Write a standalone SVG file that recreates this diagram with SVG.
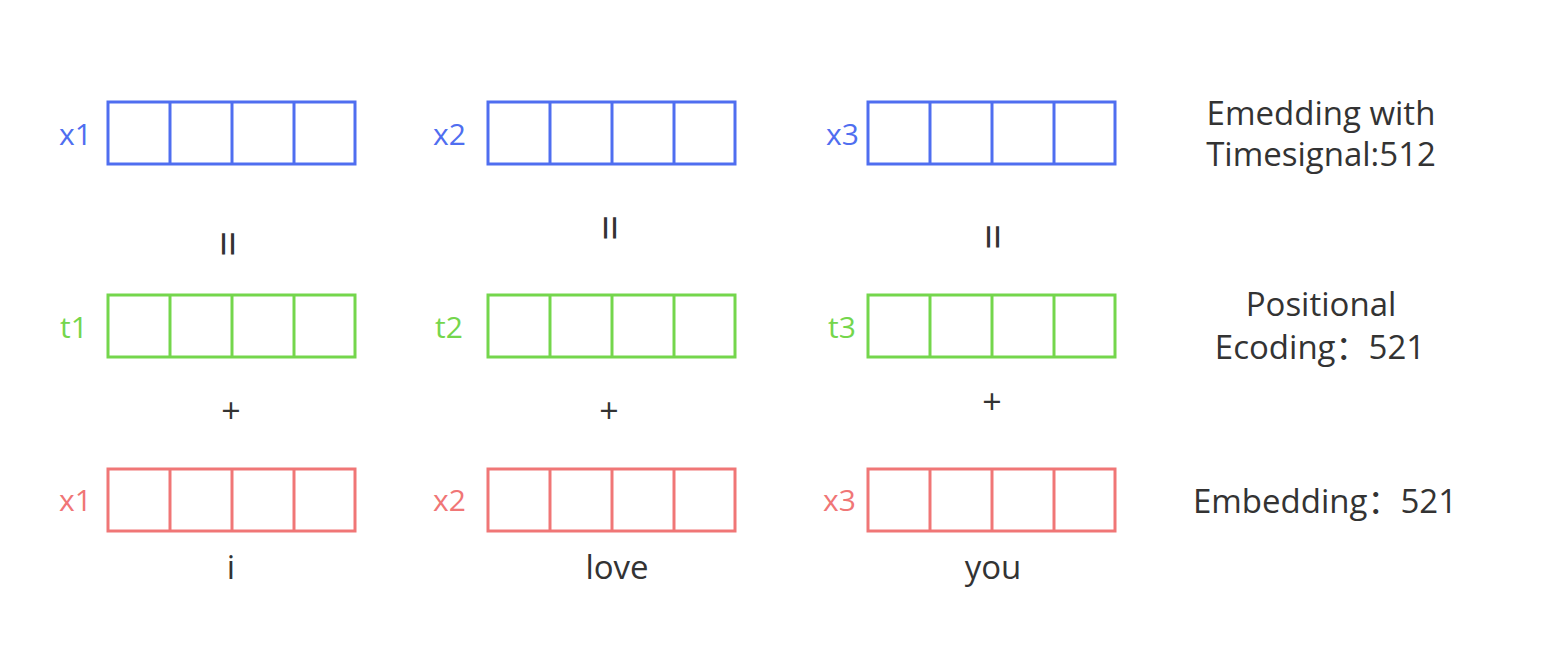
<svg xmlns="http://www.w3.org/2000/svg" width="1544" height="668" viewBox="0 0 1544 668">
<style>
.b{fill:none;stroke:#4F6EF0;stroke-width:3}
.g{fill:none;stroke:#74D64C;stroke-width:3}
.r{fill:none;stroke:#F07676;stroke-width:3}
text{font-family:"Open Sans","Noto Sans","Noto Sans CJK SC",sans-serif}
.lb{fill:#4F6EF0;font-size:30px}
.lg{fill:#74D64C;font-size:30px}
.lr{fill:#F07676;font-size:30px}
.t{fill:#333;font-size:33px;text-anchor:middle}
.s{fill:#333;font-size:34px;text-anchor:middle}
.e{fill:#333;font-size:46px;text-anchor:middle}
</style>
<defs>
<g id="v4">
<rect x="0" y="0" width="247" height="62"/>
<line x1="62" y1="0" x2="62" y2="62"/>
<line x1="124" y1="0" x2="124" y2="62"/>
<line x1="186" y1="0" x2="186" y2="62"/>
</g>
</defs>
<rect width="1544" height="668" fill="#fff"/>
<g id="row-emb-time">
<g id="x1-top" class="b"><use href="#v4" x="108" y="102"/></g>
<g id="x2-top" class="b"><use href="#v4" x="488" y="102"/></g>
<g id="x3-top" class="b"><use href="#v4" x="868" y="102"/></g>
<text class="lb" x="59" y="145">x1</text>
<text class="lb" x="433" y="145">x2</text>
<text class="lb" x="826" y="145">x3</text>
</g>
<g id="row-pos">
<g id="t1" class="g"><use href="#v4" x="108" y="295"/></g>
<g id="t2" class="g"><use href="#v4" x="488" y="295"/></g>
<g id="t3" class="g"><use href="#v4" x="868" y="295"/></g>
<text class="lg" x="60" y="338">t1</text>
<text class="lg" x="435" y="338">t2</text>
<text class="lg" x="828" y="338">t3</text>
</g>
<g id="row-emb">
<g id="x1-bot" class="r"><use href="#v4" x="108" y="469"/></g>
<g id="x2-bot" class="r"><use href="#v4" x="488" y="469"/></g>
<g id="x3-bot" class="r"><use href="#v4" x="868" y="469"/></g>
<text class="lr" x="59" y="511">x1</text>
<text class="lr" x="433" y="511">x2</text>
<text class="lr" x="823" y="511">x3</text>
</g>
<g id="operators">
<text class="e" transform="translate(227,244) rotate(90)" y="15">=</text>
<text class="e" transform="translate(609,228) rotate(90)" y="15">=</text>
<text class="e" transform="translate(992,237) rotate(90)" y="15">=</text>
<text class="s" x="231" y="423">+</text>
<text class="s" x="609" y="423">+</text>
<text class="s" x="992" y="414">+</text>
</g>
<g id="words">
<text class="t" x="231" y="579">i</text>
<text class="t" x="617" y="579">love</text>
<text class="t" x="993" y="579">you</text>
</g>
<g id="legend">
<text class="t" x="1321" y="125">Emedding with</text>
<text class="t" x="1321" y="166">Timesignal:512</text>
<text class="t" x="1321" y="316">Positional</text>
<text class="t" x="1320" y="359">Ecoding：521</text>
<text class="t" x="1325" y="513">Embedding：521</text>
</g>
</svg>
